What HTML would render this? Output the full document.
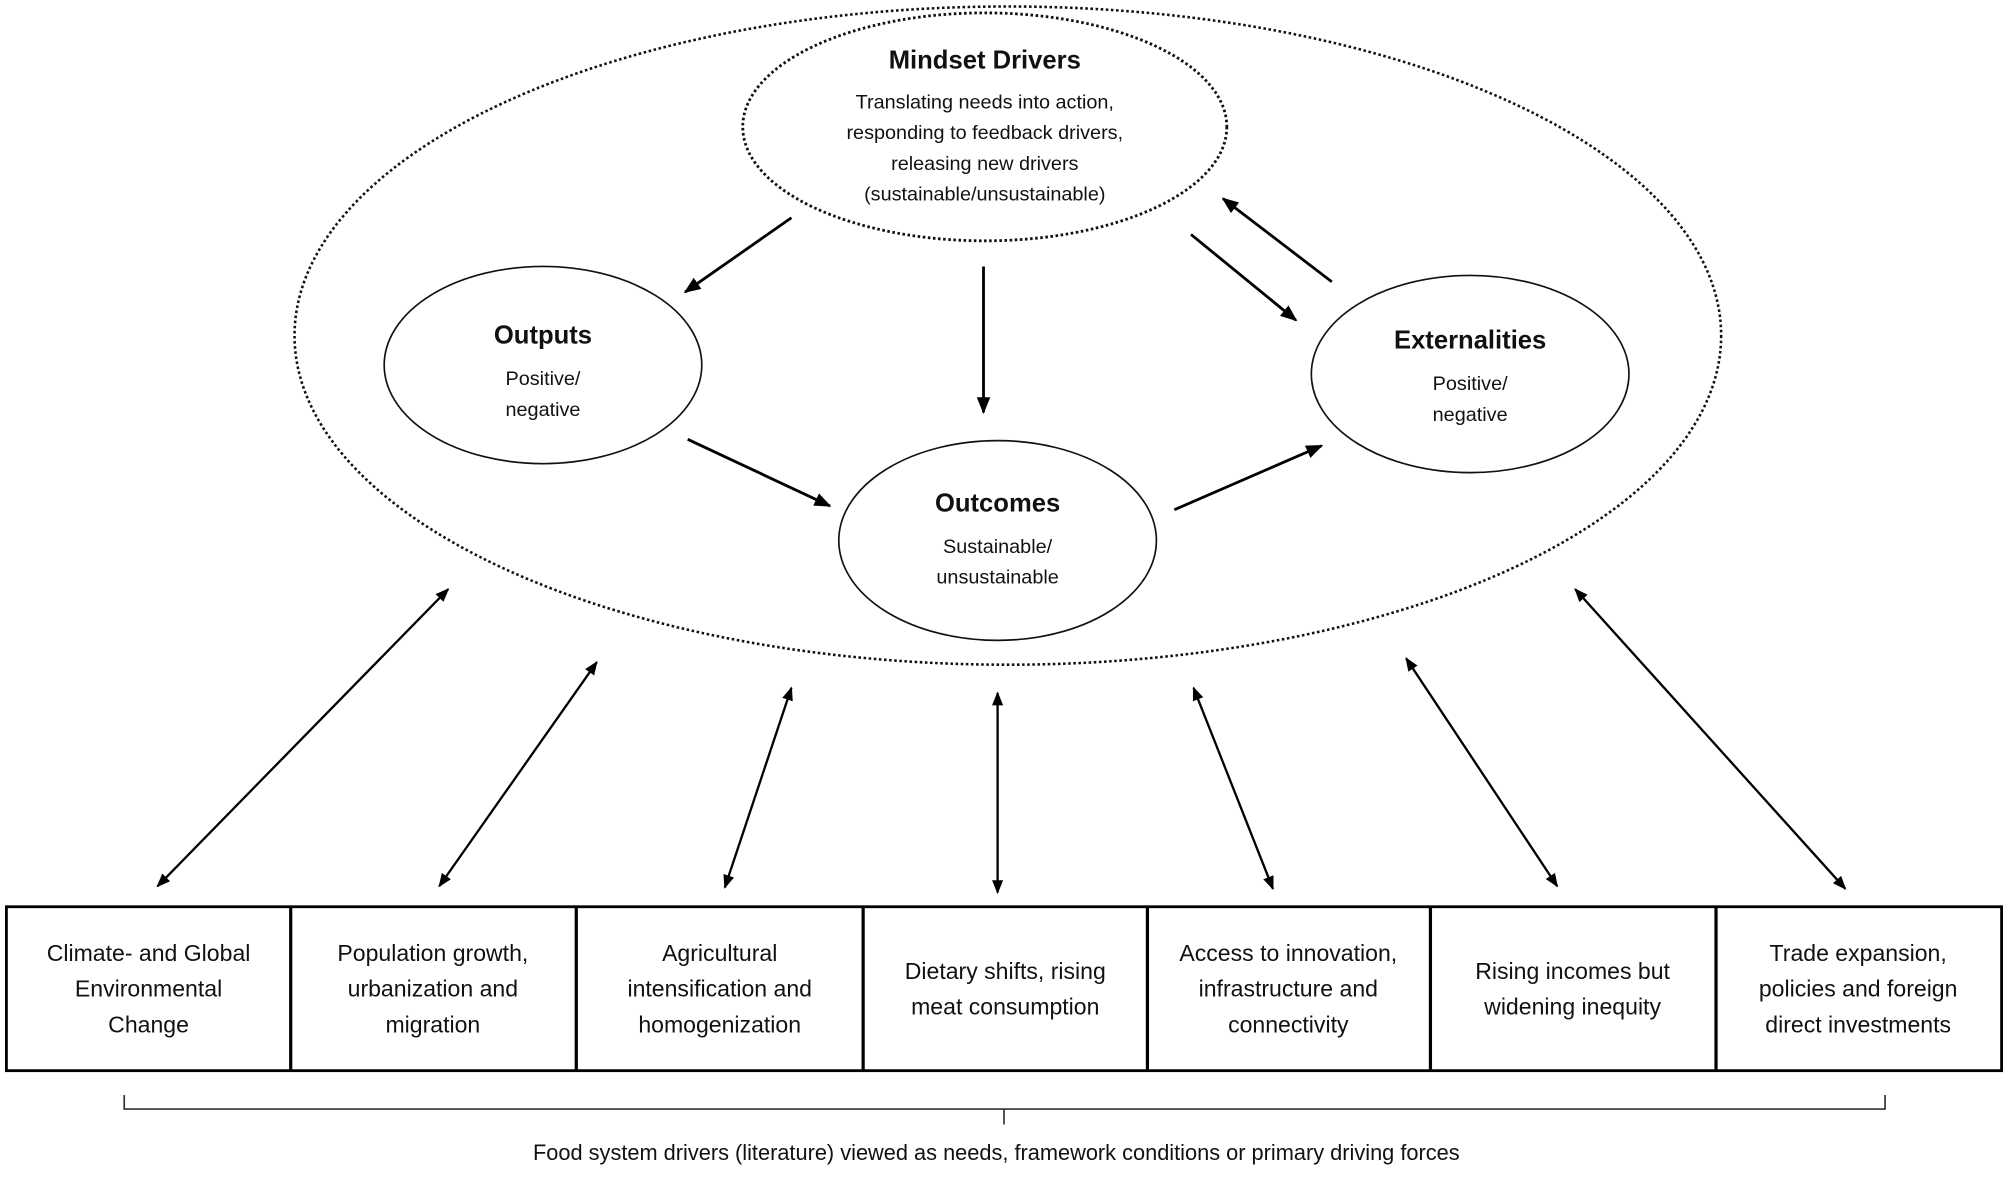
<!DOCTYPE html>
<html><head><meta charset="utf-8"><style>
html,body{margin:0;padding:0;background:#fff;}
svg{display:block;}
text{font-family:"Liberation Sans",sans-serif;fill:#111;}
</style></head><body>
<svg width="2008" height="1186" viewBox="0 0 1568 926" xmlns="http://www.w3.org/2000/svg">
<defs>
<marker id="a" viewBox="0 0 10 10" refX="9" refY="5" markerWidth="5" markerHeight="5" orient="auto-start-reverse" markerUnits="strokeWidth">
<path d="M0,1 L10,5 L0,9 Z" fill="#000"/></marker>
<marker id="b" viewBox="0 0 10 10" refX="9" refY="5" markerWidth="6" markerHeight="6" orient="auto-start-reverse" markerUnits="strokeWidth">
<path d="M0,1 L10,5 L0,9 Z" fill="#000"/></marker>
</defs>
<rect width="1568" height="926" fill="#fff"/>
<ellipse cx="787" cy="262" rx="557" ry="257" fill="none" stroke="#111" stroke-width="2" stroke-dasharray="2 2"/>
<ellipse cx="769" cy="99" rx="189" ry="89" fill="#fff" stroke="#111" stroke-width="2.2" stroke-dasharray="2 2"/>
<ellipse cx="424" cy="285" rx="124" ry="77" fill="#fff" stroke="#111" stroke-width="1.3"/>
<ellipse cx="1148" cy="292" rx="124" ry="77" fill="#fff" stroke="#111" stroke-width="1.3"/>
<ellipse cx="779" cy="422" rx="124" ry="78" fill="#fff" stroke="#111" stroke-width="1.3"/>

<g text-anchor="middle" dominant-baseline="central">
<text x="769" y="47" font-size="20" font-weight="bold">Mindset Drivers</text>
<text x="769" y="80" font-size="15.5">Translating needs into action,</text>
<text x="769" y="104" font-size="15.5">responding to feedback drivers,</text>
<text x="769" y="128" font-size="15.5">releasing new drivers</text>
<text x="769" y="152" font-size="15.5">(sustainable/unsustainable)</text>
<text x="424" y="262" font-size="20" font-weight="bold">Outputs</text>
<text x="424" y="296" font-size="15.5">Positive/</text>
<text x="424" y="320" font-size="15.5">negative</text>
<text x="1148" y="266" font-size="20" font-weight="bold">Externalities</text>
<text x="1148" y="300" font-size="15.5">Positive/</text>
<text x="1148" y="324" font-size="15.5">negative</text>
<text x="779" y="393" font-size="20" font-weight="bold">Outcomes</text>
<text x="779" y="427" font-size="15.5">Sustainable/</text>
<text x="779" y="451" font-size="15.5">unsustainable</text>
</g>

<g stroke="#000" stroke-width="2.2" fill="none">
<line x1="618" y1="170" x2="535" y2="228" marker-end="url(#b)"/>
<line x1="768" y1="208" x2="768" y2="322" marker-end="url(#b)"/>
<line x1="930" y1="183" x2="1012" y2="250" marker-end="url(#b)"/>
<line x1="1040" y1="220" x2="955" y2="155" marker-end="url(#b)"/>
<line x1="537" y1="343" x2="648" y2="395" marker-end="url(#b)"/>
<line x1="917" y1="398" x2="1032" y2="348" marker-end="url(#b)"/>
</g>
<g stroke="#000" stroke-width="1.8" fill="none">
<line x1="123" y1="692" x2="350" y2="460" marker-start="url(#b)" marker-end="url(#b)"/>
<line x1="343" y1="692" x2="466" y2="517" marker-start="url(#b)" marker-end="url(#b)"/>
<line x1="566" y1="693" x2="618" y2="537" marker-start="url(#b)" marker-end="url(#b)"/>
<line x1="779" y1="697" x2="779" y2="541" marker-start="url(#b)" marker-end="url(#b)"/>
<line x1="994" y1="694" x2="932" y2="537" marker-start="url(#b)" marker-end="url(#b)"/>
<line x1="1216" y1="692" x2="1098" y2="514" marker-start="url(#b)" marker-end="url(#b)"/>
<line x1="1441" y1="694" x2="1230" y2="460" marker-start="url(#b)" marker-end="url(#b)"/>
</g>

<rect x="5" y="708" width="1558" height="128" fill="none" stroke="#000" stroke-width="2.2"/>
<g stroke="#000" stroke-width="2.5">
<line x1="227" y1="708" x2="227" y2="836"/>
<line x1="450" y1="708" x2="450" y2="836"/>
<line x1="674" y1="708" x2="674" y2="836"/>
<line x1="896" y1="708" x2="896" y2="836"/>
<line x1="1117" y1="708" x2="1117" y2="836"/>
<line x1="1340" y1="708" x2="1340" y2="836"/>
</g>
<g text-anchor="middle" dominant-baseline="central" font-size="18">
<text x="116" y="744">Climate- and Global</text>
<text x="116" y="772">Environmental</text>
<text x="116" y="800">Change</text>
<text x="338" y="744">Population growth,</text>
<text x="338" y="772">urbanization and</text>
<text x="338" y="800">migration</text>
<text x="562" y="744">Agricultural</text>
<text x="562" y="772">intensification and</text>
<text x="562" y="800">homogenization</text>
<text x="785" y="758">Dietary shifts, rising</text>
<text x="785" y="786">meat consumption</text>
<text x="1006" y="744">Access to innovation,</text>
<text x="1006" y="772">infrastructure and</text>
<text x="1006" y="800">connectivity</text>
<text x="1228" y="758">Rising incomes but</text>
<text x="1228" y="786">widening inequity</text>
<text x="1451" y="744">Trade expansion,</text>
<text x="1451" y="772">policies and foreign</text>
<text x="1451" y="800">direct investments</text>
</g>

<path d="M97,855 L97,866 L1472,866 L1472,855 M784,866 L784,878" fill="none" stroke="#333" stroke-width="1.3"/>
<text x="778" y="900" font-size="17" text-anchor="middle" dominant-baseline="central">Food system drivers (literature) viewed as needs, framework conditions or primary driving forces</text>
</svg>
</body></html>
